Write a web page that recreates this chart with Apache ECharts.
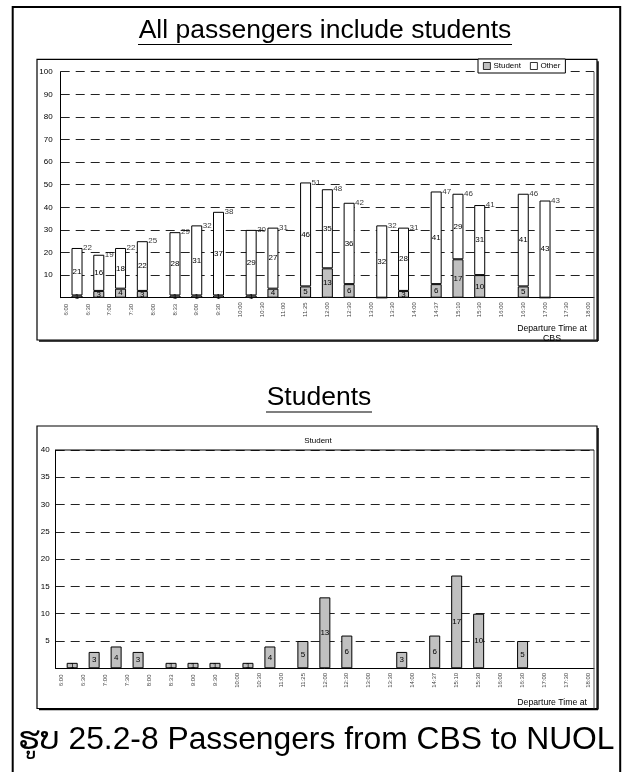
<!DOCTYPE html>
<html>
<head>
<meta charset="utf-8">
<script src="https://cdn.jsdelivr.net/npm/echarts@6/dist/echarts.min.js"></script>
<style>
  html, body { margin: 0; padding: 0; background: #fff; }
  #chart { width: 623px; height: 772px; }
</style>
</head>
<body>
<div id="chart"></div>
<script>
// Departure-time tick labels along the horizontal axis
const tickLabels = ['6:00','6:30','7:00','7:30','8:00','8:33','9:00','9:30','10:00','10:30','11:00','11:25',
  '12:00','12:30','13:00','13:30','14:00','14:37','15:10','15:30','16:00','16:30','17:00','17:30','18:00'];

// Position of each departure along the tick sequence (x.5 = between two ticks)
const slot = [0.5, 1.5, 2.5, 3.5, 5, 6, 7, 8.5, 9.5, 11, 12, 13, 14.5, 15.5, 17, 18, 19, 21, 22];

// Passengers per departure
const student = [1, 3, 4, 3, 1, 1, 1, 1, 4, 5, 13, 6, 0, 3, 6, 17, 10, 5, 0];
const other   = [21, 16, 18, 22, 28, 31, 37, 29, 27, 46, 35, 36, 32, 28, 41, 29, 31, 41, 43];

// Y-axis ranges
const allMax = 100, allStep = 10;
const stuMax = 40, stuStep = 5;

// Half-step category axis: every tick label followed by an unlabeled gap slot
const axisCats = [];
tickLabels.forEach((t, i) => {
  axisCats.push(t);
  if (i < tickLabels.length - 1) axisCats.push('');
});
const idx = s => Math.round(s * 2);

const total = student.map((s, i) => s + other[i]);

const FONT = "'Liberation Sans', Arial, 'DejaVu Sans', sans-serif";
const GRAY = '#c0c0c0';

// plot areas
const g0 = { left: 60.7, top: 71.7, right: 594, bottom: 297.7 };
const g1 = { left: 55.7, top: 450, right: 594, bottom: 668.3 };

function xAxisFor(gridIndex) {
  return {
    type: 'category', gridIndex, data: axisCats, boundaryGap: true,
    axisLine: { show: true, lineStyle: { color: '#000', width: 1 } },
    axisTick: { show: false },
    axisLabel: {
      interval: (i) => i % 2 === 0,
      rotate: 90, align: 'center', verticalAlign: 'middle', margin: 12,
      fontSize: 6, color: '#444', fontFamily: FONT
    },
    splitLine: { show: false }
  };
}
function yAxisFor(gridIndex, max, step, margin) {
  return {
    type: 'value', gridIndex, min: 0, max, interval: step,
    axisLine: { show: true, lineStyle: { color: '#000', width: 1 } },
    axisTick: { show: false },
    axisLabel: {
      formatter: v => (v === 0 ? '' : String(v)),
      fontSize: 8, color: '#000', fontFamily: FONT, margin
    },
    splitLine: { show: true, lineStyle: { color: '#222', type: [9, 6], width: 1 } }
  };
}

const studentPts = slot.map((s, i) => [idx(s), student[i]]);
const otherPts = slot.map((s, i) => [idx(s), other[i]]);
const totalPts = slot.map((s, i) => [idx(s), total[i]]);
const studentOnly = slot.map((s, i) => [idx(s), student[i]]).filter(d => d[1] > 0);

const inLabel = {
  show: true, position: 'inside', fontSize: 8, color: '#000', fontFamily: FONT,
  formatter: p => (p.value[1] ? String(p.value[1]) : '')
};

const chart = echarts.init(document.getElementById('chart'), null, { renderer: 'canvas' });

function boxFrame(x1, y1, x2, y2) {
  return [
    { type: 'rect', shape: { x: x1, y: y1, width: x2 - x1, height: y2 - y1 },
      style: { fill: '#fff', stroke: '#000', lineWidth: 1.2 }, z: -10 },
    { type: 'line', shape: { x1: x2 + 1, y1: y1 + 2, x2: x2 + 1, y2: y2 + 1 }, style: { stroke: '#000', lineWidth: 1.5 }, z: -9 },
    { type: 'line', shape: { x1: x1 + 2, y1: y2 + 1, x2: x2 + 1, y2: y2 + 1 }, style: { stroke: '#000', lineWidth: 1.5 }, z: -9 }
  ];
}

chart.setOption({
  animation: false,
  backgroundColor: '#fff',
  textStyle: { fontFamily: FONT },
  grid: [
    { left: g0.left, top: g0.top, width: g0.right - g0.left, height: g0.bottom - g0.top, containLabel: false },
    { left: g1.left, top: g1.top, width: g1.right - g1.left, height: g1.bottom - g1.top, containLabel: false }
  ],
  xAxis: [xAxisFor(0), xAxisFor(1)],
  yAxis: [yAxisFor(0, allMax, allStep, 8), yAxisFor(1, stuMax, stuStep, 6)],
  legend: {
    data: ['Student', 'Other'],
    left: 478, top: 59,
    icon: 'rect', itemWidth: 7, itemHeight: 7, itemGap: 9,
    padding: [3, 5, 3, 5],
    backgroundColor: '#fff', borderColor: '#000', borderWidth: 1, borderRadius: 0,
    itemStyle: { borderWidth: 0.8, borderColor: '#000' },
    textStyle: { fontSize: 8, color: '#000', fontFamily: FONT, padding: [0, 0, 0, -2] },
    selectedMode: false
  },
  series: [
    {
      name: 'Student', type: 'bar', xAxisIndex: 0, yAxisIndex: 0, stack: 'all',
      barWidth: 11, data: studentPts,
      itemStyle: { color: GRAY, borderColor: '#000', borderWidth: 1 },
      label: inLabel
    },
    {
      name: 'Other', type: 'bar', xAxisIndex: 0, yAxisIndex: 0, stack: 'all',
      barWidth: 11, data: otherPts,
      itemStyle: { color: '#fff', borderColor: '#000', borderWidth: 1 },
      label: inLabel
    },
    {
      name: 'Total', type: 'scatter', xAxisIndex: 0, yAxisIndex: 0,
      symbolSize: 0, data: totalPts, silent: true,
      label: {
        show: true, position: 'right', distance: 6, fontSize: 8, color: '#000', fontFamily: FONT,
        formatter: p => String(p.value[1])
      },
      z: 5
    },
    {
      name: 'Student', type: 'bar', xAxisIndex: 1, yAxisIndex: 1,
      barWidth: 11, data: studentOnly,
      itemStyle: { color: GRAY, borderColor: '#000', borderWidth: 1 },
      label: inLabel
    }
  ],
  graphic: [
    // page frame
    { type: 'rect', shape: { x: 12.7, y: 7, width: 607.5, height: 800 },
      style: { fill: 'none', stroke: '#000', lineWidth: 2 }, z: -20 },
    ...boxFrame(37, 59.3, 597, 340),
    ...boxFrame(37, 426, 597, 708.5),
    // right edge of each plot area
    { type: 'line', shape: { x1: g0.right, y1: g0.top, x2: g0.right, y2: 340 }, style: { stroke: '#555', lineWidth: 1 }, z: 1 },
    { type: 'line', shape: { x1: g1.right, y1: g1.top, x2: g1.right, y2: 708.5 }, style: { stroke: '#555', lineWidth: 1 }, z: 1 },
    // top edge of the student plot
    { type: 'line', shape: { x1: g1.left, y1: g1.top, x2: g1.right, y2: g1.top }, style: { stroke: '#000', lineWidth: 1 }, z: 1 },
    // headings
    { type: 'text', style: { text: 'All passengers include students', x: 325, y: 31, font: '26.5px ' + FONT,
        fill: '#000', align: 'center', verticalAlign: 'middle' } },
    { type: 'line', shape: { x1: 138, y1: 44.5, x2: 512, y2: 44.5 }, style: { stroke: '#000', lineWidth: 1.2 } },
    { type: 'text', style: { text: 'Students', x: 319, y: 398, font: '26.5px ' + FONT,
        fill: '#000', align: 'center', verticalAlign: 'middle' } },
    { type: 'line', shape: { x1: 266, y1: 412, x2: 372, y2: 412 }, style: { stroke: '#000', lineWidth: 1.2 } },
    // axis titles
    { type: 'text', style: { text: 'Departure Time at\nCBS', x: 552, y: 324, font: '8.7px ' + FONT,
        fill: '#000', align: 'center', verticalAlign: 'top', lineHeight: 10 } },
    { type: 'text', style: { text: 'Departure Time at', x: 587, y: 703, font: '8.7px ' + FONT,
        fill: '#000', align: 'right', verticalAlign: 'middle' } },
    { type: 'text', style: { text: 'Student', x: 318, y: 441, font: '8px ' + FONT,
        fill: '#000', align: 'center', verticalAlign: 'middle' } },
    // figure caption
    { type: 'text', style: { text: 'ຮູບ 25.2-8 Passengers from CBS to NUOL', x: 18, y: 740, font: '31.8px ' + FONT,
        fill: '#000', align: 'left', verticalAlign: 'middle' } }
  ]
});
</script>
</body>
</html>
